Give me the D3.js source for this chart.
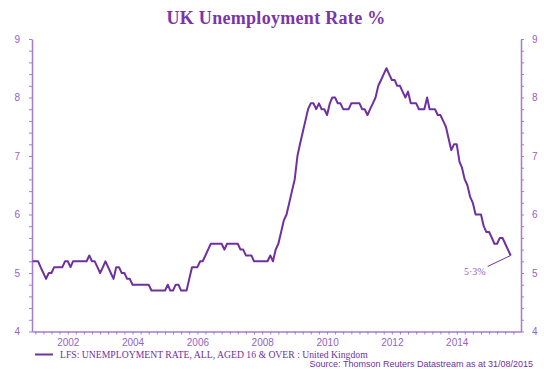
<!DOCTYPE html>
<html>
<head>
<meta charset="utf-8">
<script src="https://cdn.jsdelivr.net/npm/d3@7"></script>
<style>
  body { margin: 0; background: #fff; }
  svg { display: block; }
</style>
</head>
<body>
<div id="chart"></div>
<script>
// monthly LFS unemployment rate, first month below
const startMonth = new Date(2000, 11, 1);
const rates = [
    5.2, 5.2, 5.2, 5.1, 5.0, 4.9, 5.0, 5.0, 5.1, 5.1, 5.1, 5.1,
    5.2, 5.2, 5.1, 5.2, 5.2, 5.2, 5.2, 5.2, 5.2, 5.3, 5.2, 5.2,
    5.1, 5.0, 5.1, 5.2, 5.1, 5.0, 4.9, 5.1, 5.1, 5.0, 5.0, 4.9,
    4.9, 4.8, 4.8, 4.8, 4.8, 4.8, 4.8, 4.8, 4.7, 4.7, 4.7, 4.7,
    4.7, 4.7, 4.8, 4.7, 4.7, 4.8, 4.8, 4.7, 4.7, 4.7, 4.9, 5.1,
    5.1, 5.1, 5.2, 5.2, 5.3, 5.4, 5.5, 5.5, 5.5, 5.5, 5.5, 5.4,
    5.5, 5.5, 5.5, 5.5, 5.5, 5.4, 5.4, 5.3, 5.3, 5.3, 5.2, 5.2,
    5.2, 5.2, 5.2, 5.2, 5.3, 5.2, 5.4, 5.5, 5.7, 5.9, 6.0, 6.2,
    6.4, 6.6, 7.0, 7.2, 7.4, 7.6, 7.8, 7.9, 7.9, 7.8, 7.9, 7.8,
    7.8, 7.7, 7.9, 8.0, 8.0, 7.9, 7.9, 7.8, 7.8, 7.8, 7.9, 7.9,
    7.9, 7.9, 7.8, 7.8, 7.7, 7.8, 7.9, 8.0, 8.2, 8.3, 8.4, 8.5,
    8.4, 8.3, 8.3, 8.2, 8.2, 8.1, 8.0, 8.1, 7.9, 7.9, 7.9, 7.8,
    7.8, 7.8, 8.0, 7.8, 7.8, 7.8, 7.7, 7.7, 7.6, 7.5, 7.3, 7.1,
    7.2, 7.2, 6.9, 6.8, 6.6, 6.5, 6.3, 6.2, 6.0, 6.0, 6.0, 5.8,
    5.7, 5.7, 5.6, 5.5, 5.5, 5.6, 5.6, 5.5, 5.4, 5.3
];
const yTicks = [4, 5, 6, 7, 8, 9];
const xTickYears = [2002, 2004, 2006, 2008, 2010, 2012, 2014];
const titleText = "UK Unemployment Rate %";
const legendText = "LFS: UNEMPLOYMENT RATE, ALL, AGED 16 & OVER : United Kingdom";
const sourceText = "Source: Thomson Reuters Datastream as at 31/08/2015";
const lastLabel = "5·3%";

const W = 544, H = 369;
const lineColor = "#7030a0";
const axisColor = "#a57bd0";
const labelColor = "#9563c6";

var data = rates.map((v, i) => ({ date: d3.timeMonth.offset(startMonth, i), value: v }));

var svg = d3.select("#chart").append("svg")
    .attr("width", W)
    .attr("height", H);

var x = d3.scaleTime()
    .domain([new Date(2000, 10, 24), new Date(2015, 11, 26)])
    .range([32, 521]);

var y = d3.scaleLinear()
    .domain([4, 9])
    .range([331.5, 39]);

// title
svg.append("text")
    .attr("x", 276)
    .attr("y", 24)
    .attr("text-anchor", "middle")
    .style("font-family", "'Liberation Serif', 'DejaVu Serif', serif")
    .style("font-weight", "bold")
    .style("font-size", "18px")
    .style("letter-spacing", "0.3px")
    .style("fill", "#7a35ab")
    .text(titleText);

function styleAxis(g) {
    g.select(".domain").attr("stroke", axisColor).attr("stroke-width", 1.5);
    g.selectAll(".tick line").attr("stroke", axisColor).attr("stroke-width", 1);
    g.selectAll(".tick text")
        .style("font-family", "'Liberation Sans', Arial, sans-serif")
        .style("font-size", "10px")
        .style("fill", labelColor);
}

var minorY = d3.range(4, 9.001, 0.2).map(d => Math.round(d * 10) / 10);
var yFmt = d => (yTicks.indexOf(d) >= 0 ? d : "");

// left axis
svg.append("g")
    .attr("transform", "translate(32,0)")
    .call(d3.axisLeft(y).tickValues(minorY).tickFormat(yFmt).tickSizeInner(3).tickSizeOuter(0).tickPadding(9))
    .call(styleAxis);

// right axis
svg.append("g")
    .attr("transform", "translate(521,0)")
    .call(d3.axisRight(y).tickValues(minorY).tickFormat(yFmt).tickSizeInner(3).tickSizeOuter(0).tickPadding(8))
    .call(styleAxis);

// bottom axis, quarterly ticks
var quarters = d3.timeMonth.every(3).range(new Date(2001, 0, 1), new Date(2016, 0, 1));
svg.append("g")
    .attr("transform", "translate(0,331.5)")
    .call(d3.axisBottom(x).tickValues(quarters)
        .tickFormat(d => (d.getMonth() === 0 && xTickYears.indexOf(d.getFullYear()) >= 0) ? d.getFullYear() : "")
        .tickSizeInner(3).tickSizeOuter(0).tickPadding(4))
    .call(styleAxis);

// series line
var line = d3.line()
    .x(d => x(d.date))
    .y(d => y(d.value));

svg.append("path")
    .datum(data)
    .attr("fill", "none")
    .attr("stroke", lineColor)
    .attr("stroke-width", 2)
    .attr("stroke-linejoin", "round")
    .attr("d", line);

// last value callout
var last = data[data.length - 1];
var lx = x(last.date), ly = y(last.value);
svg.append("line")
    .attr("x1", lx).attr("y1", ly)
    .attr("x2", lx - 23).attr("y2", ly + 11)
    .attr("stroke", lineColor)
    .attr("stroke-width", 1);
svg.append("text")
    .attr("x", lx - 25)
    .attr("y", ly + 20)
    .attr("text-anchor", "end")
    .style("font-family", "'Liberation Serif', serif")
    .style("font-size", "10px")
    .style("fill", labelColor)
    .text(lastLabel);

// legend
svg.append("line")
    .attr("x1", 35).attr("x2", 53)
    .attr("y1", 354.5).attr("y2", 354.5)
    .attr("stroke", lineColor)
    .attr("stroke-width", 2);
svg.append("text")
    .attr("x", 60)
    .attr("y", 357.5)
    .style("font-family", "'Liberation Serif', serif")
    .style("font-size", "9.7px")
    .style("fill", lineColor)
    .text(legendText);

// source
svg.append("text")
    .attr("x", 533)
    .attr("y", 367)
    .attr("text-anchor", "end")
    .style("font-family", "'Liberation Sans', Arial, sans-serif")
    .style("font-size", "9px")
    .style("fill", lineColor)
    .text(sourceText);
</script>
</body>
</html>
